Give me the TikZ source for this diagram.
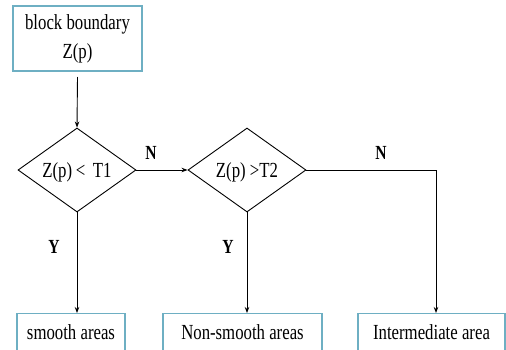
\documentclass[tikz,border=0pt]{standalone}
\usepackage{fontspec}
\setmainfont[FakeStretch=0.78]{Liberation Serif}
\usetikzlibrary{shapes.geometric,arrows.meta}
\definecolor{boxc}{RGB}{110,175,195}
\newcommand{\dtext}[1]{\smash{\makebox[0pt]{\raisebox{-7pt}{#1}}}}
\tikzset{
  x=1pt,y=1pt,
  every node/.style={font=\fontsize{21.5}{29}\selectfont},
  topbox/.style={draw=boxc,line width=1.1pt,rectangle,minimum width=129pt,minimum height=65pt,align=center,inner sep=0pt},
  endbox/.style={draw=boxc,line width=1.1pt,rectangle,anchor=north,text height=16pt,text depth=20pt,inner ysep=10pt,inner xsep=0pt},
  decision/.style={draw,line width=0.9pt,diamond,minimum width=118pt,minimum height=84pt,inner sep=0pt},
  conn/.style={line width=0.9pt,-{Stealth[length=6pt,width=4.5pt]}},
  plainconn/.style={line width=0.9pt},
  lab/.style={font=\fontsize{20}{22}\selectfont\bfseries,inner sep=0pt}
}
\begin{document}
\begin{tikzpicture}
\useasboundingbox (0,0) rectangle (506,349);
\clip (0,0) rectangle (506,349);
\fill[white] (0,0) rectangle (506,349);
\node[topbox] (start) at (77.5,310.5) {block boundary\\Z(p)};
\node[decision] (d1) at (77,179) {\dtext{Z(p)\,<\,\ T1}};
\node[decision] (d2) at (247,179) {\dtext{Z(p) >T2}};
\coordinate (corner) at (436,179);
\node[endbox,minimum width=108pt] (b1) at (71,36) {smooth areas};
\node[endbox,minimum width=159pt] (b2) at (242.5,36) {Non-smooth areas};
\node[endbox,minimum width=147pt] (b3) at (431.5,36) {Intermediate area};
\draw[conn] (start.south |- 0,272) -- (d1.north);
\draw[conn] (d1.east) -- (d2.west);
\draw[conn] (d1.south) -- (d1.south |- b1.north);
\draw[conn] (d2.south) -- (d2.south |- b2.north);
\draw[plainconn] (d2.east) -- (corner);
\draw[conn] (corner) -- (corner |- b3.north);
\node[lab] (n1) at (151,196) {N};
\node[lab] (n2) at (381,196) {N};
\node[lab] (y1) at (54,102) {Y};
\node[lab] (y2) at (228,102) {Y};
\end{tikzpicture}
\end{document}
